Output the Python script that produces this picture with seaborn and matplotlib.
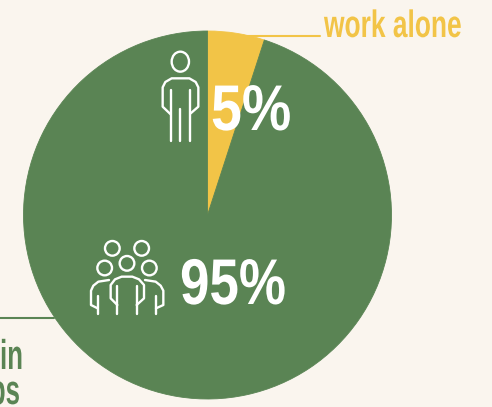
import matplotlib
matplotlib.use("Agg")
import matplotlib.pyplot as plt
import matplotlib.patheffects as pe
from matplotlib.patches import Ellipse
from matplotlib.transforms import Affine2D
import seaborn as sns

# Data
labels = ["work alone", "work in", "groups"]
shares = [5, 95]
pct_labels = ["5%", "95%"]

GREEN = "#5a8454"
YELLOW = "#f2c447"
BG = "#faf5ee"
W, H = 492, 407

sns.set_theme(style="white")
plt.rcParams["font.family"] = ["Liberation Sans", "DejaVu Sans"]


# no condensed font installed, so squeeze the text sideways around its anchor
class Squeeze(pe.AbstractPathEffect):
    def __init__(self, sx, x0):
        self.sx = sx
        self.x0 = x0

    def draw_path(self, renderer, gc, tpath, affine, rgbFace=None):
        squeeze = Affine2D().translate(-self.x0, 0).scale(self.sx, 1).translate(self.x0, 0)
        renderer.draw_path(gc, tpath, affine + squeeze, rgbFace)


def label(x, y, s, color, size, sx, ha="left"):
    t = ax.text(x, H - y, s, color=color, fontsize=size, fontweight="bold", ha=ha, va="baseline")
    t.set_path_effects([Squeeze(sx, x)])


fig = plt.figure(figsize=(W / 100, H / 100), dpi=100, facecolor=BG)
ax = fig.add_axes([0, 0, 1, 1])
ax.set_facecolor(BG)

# pie, yellow slice first going clockwise from the top
wedges, _ = ax.pie(shares, colors=[YELLOW, GREEN], startangle=90, counterclock=False,
                   center=(207.5, H - 215), radius=184, frame=True)
for w in wedges:
    # hides the light seam between the slices
    w.set_edgecolor(w.get_facecolor())
    w.set_linewidth(0.6)
ax.set_xlim(0, W)
ax.set_ylim(0, H)
ax.set_aspect("equal")
ax.axis("off")

# leader lines
ax.plot([247, 320], [H - 36, H - 36], color=YELLOW, lw=1.5, zorder=1)
ax.plot([0, 54], [H - 317.5, H - 317.5], color=GREEN, lw=1.5, zorder=1)

# labels
label(324, 37, labels[0], YELLOW, 27.5, 0.69)
label(23, 369, labels[1], GREEN, 30, 0.62, ha="right")
label(20, 404, labels[2], GREEN, 30, 0.62, ha="right")
label(211, 130, pct_labels[0], "white", 46.5, 0.86)
label(180, 304, pct_labels[1], "white", 46.5, 0.82)


# icons, points measured on 3x crops
def draw_icon(lines, heads, x0, y0):
    for pts in lines:
        xs = [x0 + p[0] / 3 for p in pts]
        ys = [H - (y0 + p[1] / 3) for p in pts]
        ax.plot(xs, ys, color="white", lw=1.7, solid_capstyle="round", solid_joinstyle="round", zorder=5)
    for cx, cy, rx, ry in heads:
        ax.add_patch(Ellipse((x0 + cx / 3, H - (y0 + cy / 3)), 2 * rx / 3, 2 * ry / 3,
                             fill=False, ec="white", lw=1.7, zorder=5))


one_lines = [
    [(92, 343), (68, 320), (68, 262), (76, 246), (95, 235), (148, 235), (167, 246), (175, 262), (175, 320), (152, 340)],
    [(92, 270), (92, 422)],
    [(121, 327), (121, 422)],
    [(150, 270), (150, 422)],
]
one_heads = [(121, 185, 26, 30)]
draw_icon(one_lines, one_heads, 140, 0)

group_lines = [
    [(352, 255), (332, 235), (332, 195), (345, 178), (365, 170), (397, 170), (417, 178), (432, 195), (432, 235), (410, 255)],
    [(352, 197), (352, 283)],
    [(410, 197), (410, 283)],
    [(327, 180), (295, 185), (280, 197), (273, 212), (273, 255), (293, 265)],
    [(293, 228), (293, 283)],
    [(435, 180), (467, 185), (482, 197), (490, 212), (490, 255), (468, 265)],
    [(468, 228), (468, 283)],
]
group_heads = [(337, 85, 22, 22), (425, 85, 22, 22), (381, 130, 22, 22), (314, 144, 22, 22), (448, 144, 22, 22)]
draw_icon(group_lines, group_heads, 0, 220)

fig.savefig("out.png", dpi=100, facecolor=BG)
